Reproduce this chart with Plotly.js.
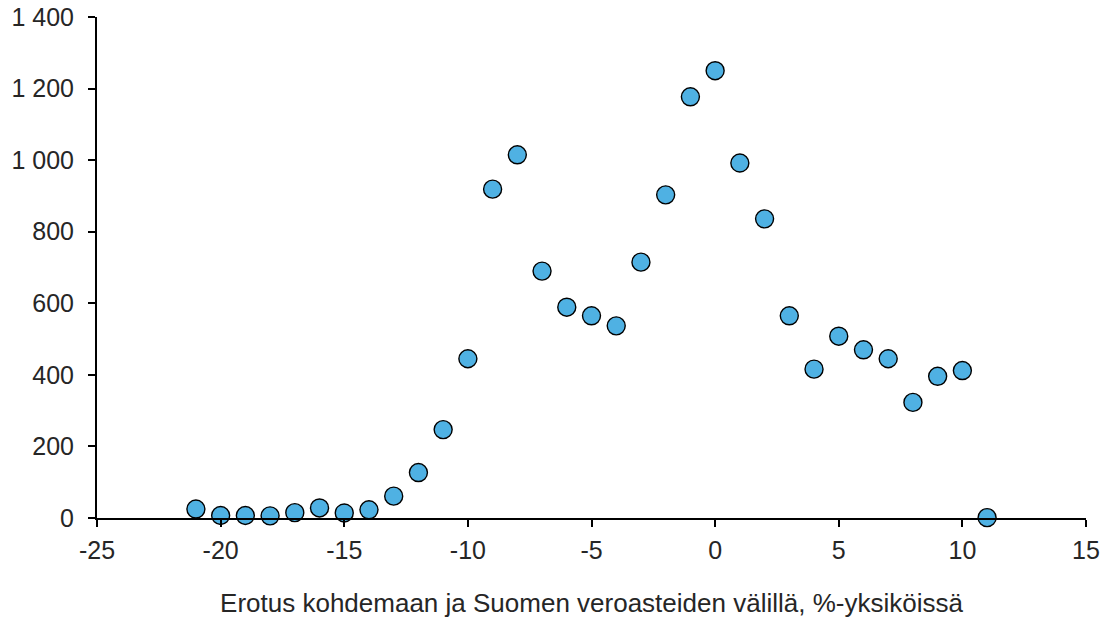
<!DOCTYPE html>
<html>
<head>
<meta charset="utf-8">
<script src="https://cdn.plot.ly/plotly-3.0.1.min.js"></script>
<style>
  html, body { margin: 0; padding: 0; background: #ffffff; }
  #chart { width: 1105px; height: 618px; }
</style>
</head>
<body>
<div id="chart"></div>
<script>
const xValues = [-21, -20, -19, -18, -17, -16, -15, -14, -13, -12, -11, -10, -9, -8, -7, -6, -5, -4, -3, -2, -1, 0, 1, 2, 3, 4, 5, 6, 7, 8, 9, 10, 11];
const yValues = [25, 7, 7, 6, 15, 28, 14, 23, 61, 127, 247, 445, 919, 1015, 690, 589, 565, 537, 715, 903, 1177, 1250, 992, 836, 565, 416, 508, 470, 445, 323, 396, 412, 1];
const xTickVals = [-25, -20, -15, -10, -5, 0, 5, 10, 15];
const xTickText = ["-25", "-20", "-15", "-10", "-5", "0", "5", "10", "15"];
const yTickVals = [0, 200, 400, 600, 800, 1000, 1200, 1400];
const yTickText = ["0", "200", "400", "600", "800", "1 000", "1 200", "1 400"];
const xTitle = "Erotus kohdemaan ja Suomen veroasteiden välillä, %-yksiköissä";

const trace = {
  x: xValues,
  y: yValues,
  type: "scatter",
  mode: "markers",
  cliponaxis: false,
  marker: {
    size: 18,
    color: "#4FB1E3",
    line: { color: "#000000", width: 1.4 }
  },
  hoverinfo: "x+y"
};

const font = { family: "Liberation Sans, Arial, sans-serif", size: 25, color: "#262626" };
const titleFont = { family: "Liberation Sans, Arial, sans-serif", size: 26, color: "#262626" };

const layout = {
  width: 1105,
  height: 618,
  margin: { l: 97, r: 19, t: 17, b: 100 },
  paper_bgcolor: "#ffffff",
  plot_bgcolor: "#ffffff",
  showlegend: false,
  font: font,
  xaxis: {
    range: [-25, 15],
    tickvals: xTickVals,
    ticktext: xTickText,
    showgrid: false,
    zeroline: false,
    showline: true,
    linecolor: "#000000",
    linewidth: 2,
    ticks: "outside",
    ticklen: 7,
    tickwidth: 2,
    tickcolor: "#000000",
    tickfont: font,
    ticklabelstandoff: 2,
    title: { text: xTitle, font: titleFont, standoff: 37 },
    automargin: false
  },
  yaxis: {
    range: [0, 1400],
    tickvals: yTickVals,
    ticktext: yTickText,
    showgrid: false,
    zeroline: false,
    showline: true,
    linecolor: "#000000",
    linewidth: 2,
    ticks: "outside",
    ticklen: 7,
    tickwidth: 2,
    tickcolor: "#000000",
    tickfont: font,
    ticklabelstandoff: 9,
    automargin: false
  }
};

Plotly.newPlot("chart", [trace], layout, { displayModeBar: false, staticPlot: true });
</script>
</body>
</html>
